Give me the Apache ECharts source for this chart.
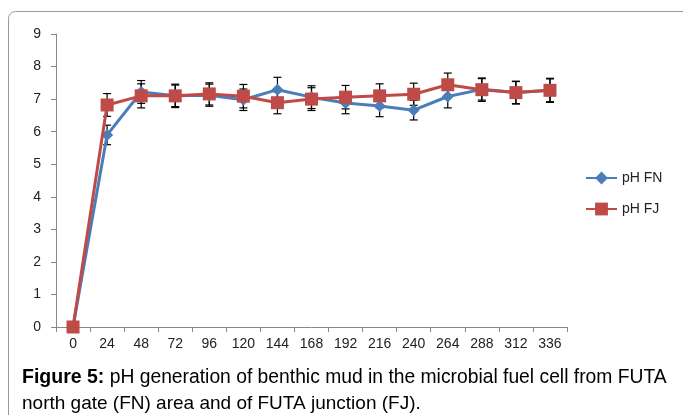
<!DOCTYPE html>
<html><head><meta charset="utf-8">
<script src="https://cdn.jsdelivr.net/npm/echarts@6/dist/echarts.min.js"></script>
<style>html,body{margin:0;padding:0;background:#fff}#c{width:683px;height:415px}</style>
</head><body><div id="c"></div>
<script>
const categories = ['0','24','48','72','96','120','144','168','192','216','240','264','288','312','336'];
const phFN = [0, 5.9, 7.22, 7.1, 7.12, 6.98, 7.29, 7.06, 6.88, 6.79, 6.66, 7.08, 7.3, 7.2, 7.27];
const phFJ = [0, 6.82, 7.1, 7.1, 7.16, 7.09, 6.89, 7.0, 7.06, 7.1, 7.15, 7.44, 7.29, 7.2, 7.27];
const errFN = [0, 0.3, 0.35, 0.33, 0.34, 0.33, 0.38, 0.35, 0.33, 0.33, 0.3, 0.35, 0.33, 0.34, 0.35];
const errFJ = [0, 0.35, 0.37, 0.36, 0.34, 0.36, 0.34, 0.35, 0.36, 0.37, 0.34, 0.36, 0.36, 0.35, 0.37];
const yTicks = [0,1,2,3,4,5,6,7,8,9];

const chart = echarts.init(document.getElementById('c'));
function errData(vals, errs){ return vals.map((v,i)=>[i, v-errs[i], v+errs[i]]); }
function errRender(params, api){
  const i = api.value(0);
  const lo = api.coord([i, api.value(1)]);
  const hi = api.coord([i, api.value(2)]);
  const w = 4;
  const st = {stroke:'#000', lineWidth:1.2};
  return {type:'group', children:[
    {type:'line', shape:{x1:lo[0],y1:lo[1],x2:hi[0],y2:hi[1]}, style:st},
    {type:'line', shape:{x1:hi[0]-w,y1:hi[1],x2:hi[0]+w,y2:hi[1]}, style:st},
    {type:'line', shape:{x1:lo[0]-w,y1:lo[1],x2:lo[0]+w,y2:lo[1]}, style:st}
  ]};
}
const font = 'Liberation Sans, Arial, sans-serif';
const capFont = 'Liberation Sans, Arial, sans-serif';
chart.setOption({
  animation:false,
  backgroundColor:'#fff',
  grid:{left:56, right:116, top:34, bottom:88},
  legend:{
    orient:'vertical', left:580, top:166, itemGap:17, itemWidth:31, itemHeight:16,
    textStyle:{fontFamily:font, fontSize:14, color:'#222'},
    data:['pH FN','pH FJ']
  },
  xAxis:{
    type:'category', data:categories, boundaryGap:true,
    axisLine:{lineStyle:{color:'#888'}},
    axisTick:{show:true, length:5, lineStyle:{color:'#888'}},
    axisLabel:{fontFamily:font, fontSize:14, color:'#222', margin:10, interval:0}
  },
  yAxis:{
    type:'value', min:yTicks[0], max:yTicks[yTicks.length-1], interval:1,
    axisLine:{show:true, lineStyle:{color:'#888'}},
    axisTick:{show:true, length:5, lineStyle:{color:'#888'}},
    splitLine:{show:false},
    axisLabel:{fontFamily:font, fontSize:14, color:'#222', margin:15}
  },
  series:[
    {type:'custom', name:'errFN', renderItem:errRender, data:errData(phFN, errFN), z:1, silent:true, encode:{x:0, y:[1,2]}},
    {type:'custom', name:'errFJ', renderItem:errRender, data:errData(phFJ, errFJ), z:1, silent:true, encode:{x:0, y:[1,2]}},
    {type:'line', name:'pH FN', data:phFN, symbol:'diamond', symbolSize:12,
      lineStyle:{color:'#4A7EBB', width:3}, itemStyle:{color:'#4A7EBB'}, z:3},
    {type:'line', name:'pH FJ', data:phFJ, symbol:'rect', symbolSize:13,
      lineStyle:{color:'#BE4B48', width:3}, itemStyle:{color:'#BE4B48'}, z:4}
  ],
  graphic:[
    {type:'rect', shape:{x:8.5, y:11.5, width:720, height:500, r:[7,0,0,0]},
     style:{fill:null, stroke:'#9a9a9a', lineWidth:1}, z:-1, silent:true},
    {type:'text', left:22, top:368, style:{
      text:'{b|Figure 5:} pH generation of benthic mud in the microbial fuel cell from FUTA',
      rich:{b:{fontWeight:'bold', fontFamily:capFont, fontSize:19.5, fill:'#000'}},
      fontFamily:capFont, fontSize:19.3, fill:'#000'}},
    {type:'text', left:22, top:394, style:{
      text:'north gate (FN) area and of FUTA junction (FJ).',
      fontFamily:capFont, fontSize:19, fill:'#000'}}
  ]
});
</script></body></html>
